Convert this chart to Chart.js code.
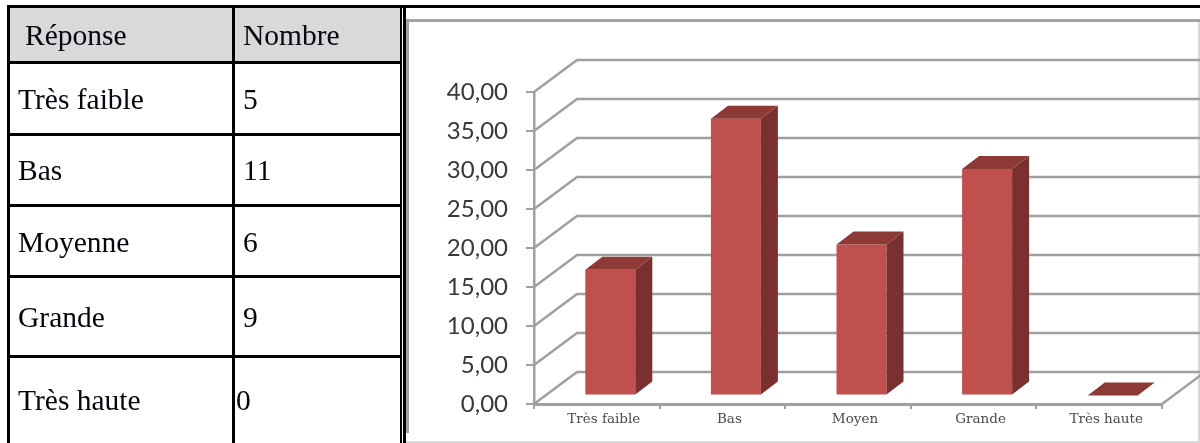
<!DOCTYPE html>
<html lang="fr">
<head>
<meta charset="utf-8">
<title>Réponse / Nombre</title>
<script src="https://cdn.jsdelivr.net/npm/chart.js@4"></script>
<style>
html,body{margin:0;padding:0;background:#fff;width:1200px;height:443px;overflow:hidden}
#stage{position:relative;width:1200px;height:443px}
.r{position:absolute}
.t{position:absolute;font:29.5px/34px "Liberation Serif",serif;color:#06060f;white-space:nowrap}
canvas{position:absolute;left:0;top:0}
</style>
</head>
<body>
<div id="stage"><canvas id="c" width="1200" height="443"></canvas></div>
<script>
// Table data
const tableHeaders = ['Réponse', 'Nombre'];
const tableLabels = ['Très faible', 'Bas', 'Moyenne', 'Grande', 'Très haute'];
const tableCounts = ['5', '11', '6', '9', '0'];
// Chart data
const categories = ['Très faible', 'Bas', 'Moyen', 'Grande', 'Très haute'];
const percentages = [16.13, 35.48, 19.35, 29.03, 0];

// Table layout
const stage = document.getElementById('stage');
function box(x, y, w, h, color) {
  const d = document.createElement('div');
  d.className = 'r';
  d.style.cssText = `left:${x}px;top:${y}px;width:${w}px;height:${h}px;background:${color}`;
  stage.insertBefore(d, stage.firstChild);
}
function text(str, x, baseline) {
  const d = document.createElement('div');
  d.className = 't';
  d.textContent = str;
  d.style.left = x + 'px';
  d.style.top = (baseline - 27) + 'px';
  stage.appendChild(d);
}
[[7,5,1193,3],[7,5,3,438],[232,5,3,438],[400,5,2,438],[403,5,3,438],
 [7,61,395,3],[7,133,395,3],[7,204,395,3],[7,275,395,3],[7,355,395,3]]
  .forEach(b => box(b[0], b[1], b[2], b[3], '#000'));
box(10, 8, 222, 53, '#d9d9d9');
box(235, 8, 165, 53, '#d9d9d9');
box(406, 19, 794, 3, '#a3a3a3');
box(406, 19, 3, 414, '#a3a3a3');
box(406, 441, 794, 2, '#d9d9d9');
box(1198, 19, 2, 424, '#d9d9d9');

text(tableHeaders[0], 25, 45);
text(tableHeaders[1], 243, 45);
const baselines = [109, 180, 252, 327, 410];
const countX = [243, 243, 243, 243, 236];
tableLabels.forEach((l, i) => {
  text(l, 18, baselines[i]);
  text(tableCounts[i], countX[i], baselines[i]);
});

// Pseudo-3D look
const depth = { wallDx: 43, wallDy: -32, barShiftX: 13.5, barShiftY: -8.5, barDx: 17, barDy: -13 };
const gridColor = '#a0a0a0';
const threeD = {
  id: 'threeD',
  beforeDatasetsDraw(chart) {
    const { ctx, chartArea: a, scales: { y } } = chart;
    ctx.save();
    ctx.strokeStyle = gridColor;
    ctx.lineWidth = 2.5;
    y.ticks.forEach(t => {
      const p = y.getPixelForValue(t.value);
      ctx.beginPath();
      ctx.moveTo(a.left, p);
      ctx.lineTo(a.left + depth.wallDx, p + depth.wallDy);
      ctx.lineTo(a.right + depth.wallDx, p + depth.wallDy);
      ctx.stroke();
    });
    const p0 = y.getPixelForValue(0);
    ctx.beginPath();
    ctx.moveTo(a.right, p0);
    ctx.lineTo(a.right + depth.wallDx, p0 + depth.wallDy);
    ctx.stroke();
    ctx.restore();
    ctx.save();
    ctx.translate(depth.barShiftX, depth.barShiftY);
  },
  afterDatasetsDraw(chart) {
    const { ctx } = chart;
    const { barDx: dx, barDy: dy } = depth;
    chart.getDatasetMeta(0).data.forEach(bar => {
      const l = bar.x - bar.width / 2, r = bar.x + bar.width / 2, top = bar.y, base = bar.base;
      if (base - top > 0) {
        ctx.fillStyle = '#7a302e';
        ctx.beginPath();
        ctx.moveTo(r, top); ctx.lineTo(r + dx, top + dy);
        ctx.lineTo(r + dx, base + dy); ctx.lineTo(r, base);
        ctx.closePath(); ctx.fill();
      }
      ctx.fillStyle = '#8d3a37';
      ctx.beginPath();
      ctx.moveTo(l, top); ctx.lineTo(l + dx, top + dy);
      ctx.lineTo(r + dx, top + dy); ctx.lineTo(r, top);
      ctx.closePath(); ctx.fill();
    });
    ctx.restore();
  }
};

new Chart(document.getElementById('c'), {
  type: 'bar',
  plugins: [threeD],
  data: {
    labels: categories,
    datasets: [{
      data: percentages,
      backgroundColor: '#c0504d',
      borderWidth: 0,
      categoryPercentage: 1,
      barPercentage: 0.398,
      clip: false
    }]
  },
  options: {
    responsive: false,
    animation: false,
    layout: { padding: { left: 420, right: 38, top: 92, bottom: 0 } },
    plugins: { legend: { display: false }, tooltip: { enabled: false } },
    scales: {
      x: {
        afterFit(s) { s.height = 39; },
        grid: { drawOnChartArea: false, drawTicks: true, tickLength: 5, color: gridColor, lineWidth: 2 },
        border: { color: gridColor, width: 3 },
        ticks: {
          font: { family: '"DejaVu Serif"', size: 13.5 },
          color: '#4a4a4a',
          labelOffset: 7,
          padding: 2,
          maxRotation: 0,
          autoSkip: false
        }
      },
      y: {
        min: 0,
        max: 40,
        afterFit(s) { s.width = 114; },
        grid: { drawOnChartArea: false, drawTicks: true, tickLength: 8, color: gridColor, lineWidth: 2 },
        border: { color: gridColor, width: 2.5 },
        ticks: {
          stepSize: 5,
          font: { family: 'Lato', size: 24 },
          color: '#383838',
          padding: 18,
          z: 1,
          callback: v => v.toFixed(2).replace('.', ',')
        }
      }
    }
  }
});
</script>
</body>
</html>
